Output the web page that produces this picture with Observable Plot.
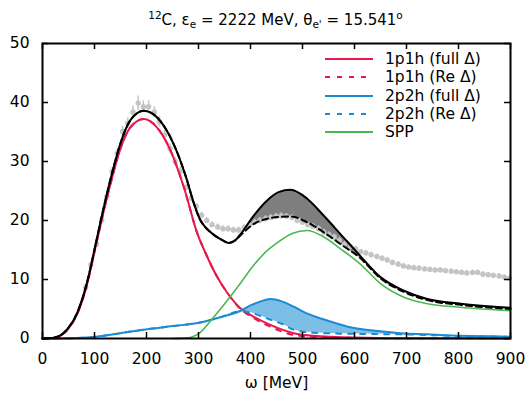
<!DOCTYPE html>
<html>
<head>
<meta charset="utf-8">
<script src="https://cdn.jsdelivr.net/npm/d3@7"></script>
<script src="https://cdn.jsdelivr.net/npm/@observablehq/plot@0.6"></script>
<style>
  html, body { margin: 0; padding: 0; background: #fff; }
  #wrap { position: relative; width: 531px; height: 395px; font-family: "DejaVu Sans", sans-serif; color: #000; }
  #title { height: 30px; box-sizing: border-box; padding-top: 11px; padding-left: 20px; line-height: 18px; font-size: 15px; text-align: center; white-space: nowrap; }
  #title sup, #title sub { font-size: 10.5px; line-height: 0; }
  #title sup { vertical-align: 6px; }
  #title sub { vertical-align: -3px; }
  #legend { position: absolute; left: 325px; top: 50px; font-size: 15.5px; }
  .row { display: flex; align-items: center; height: 18.3px; white-space: nowrap; }
  .row svg { margin-right: 12px; flex: none; }
</style>
</head>
<body>
<div id="wrap">
  <div id="title"><sup>12</sup>C, ε<sub>e</sub> = 2222 MeV, θ<sub>e'</sub> = 15.541<sup>o</sup></div>
  <div id="chart"></div>
  <div id="legend"></div>
</div>
<script>
// ---------- data ----------
const xTicks = [0, 100, 200, 300, 400, 500, 600, 700, 800, 900];
const yTicks = [0, 10, 20, 30, 40, 50];

// experimental data (gray points)
const expW = [83, 93, 104, 114, 124, 134, 144, 154, 164, 174, 184, 194, 204, 215, 225, 235, 245, 255, 265, 276, 286, 296, 306, 316, 326, 337, 347, 357, 367, 377, 388, 398, 408, 418, 429, 439, 449, 459, 469, 480, 490, 500, 510, 520, 531, 541, 551, 561, 571, 581, 592, 602, 612, 622, 632, 643, 653, 663, 673, 684, 694, 704, 714, 724, 735, 745, 755, 765, 775, 786, 796, 806, 816, 827, 837, 847, 857, 867, 878, 888, 898];
const expV = [8.7, 12.5, 16.0, 20.1, 24.1, 28.3, 31.4, 35.1, 36.5, 38.4, 39.9, 39.3, 39.3, 38.4, 36.7, 34.5, 32.2, 30.0, 28.4, 25.6, 23.8, 22.4, 20.9, 20.0, 19.3, 18.9, 18.6, 18.6, 18.4, 18.4, 18.8, 19.3, 19.7, 20.0, 20.3, 20.5, 20.7, 20.8, 20.7, 20.5, 20.0, 19.7, 19.3, 19.0, 18.6, 18.0, 17.6, 17.2, 16.6, 16.0, 15.6, 15.2, 14.7, 14.5, 14.2, 13.9, 13.6, 13.3, 12.9, 12.6, 12.3, 12.1, 12.0, 11.9, 11.8, 11.7, 11.6, 11.6, 11.5, 11.4, 11.3, 11.2, 11.1, 11.2, 11.2, 10.9, 10.8, 10.7, 10.6, 10.4, 10.2];
const expErr = [0.5, 0.5, 0.6, 0.6, 0.7, 0.7, 0.8, 0.9, 0.9, 1.0, 1.2, 1.0, 1.0, 0.9, 0.9, 0.8, 0.8, 0.7, 0.7, 0.6, 0.6, 0.5, 0.5, 0.5, 0.5, 0.5, 0.5, 0.5, 0.5, 0.5, 0.5, 0.5, 0.5, 0.5, 0.5, 0.5, 0.5, 0.5, 0.5, 0.5, 0.5, 0.5, 0.5, 0.5, 0.5, 0.5, 0.5, 0.5, 0.5, 0.5, 0.4, 0.4, 0.4, 0.4, 0.4, 0.4, 0.4, 0.4, 0.4, 0.4, 0.4, 0.4, 0.4, 0.4, 0.4, 0.4, 0.4, 0.4, 0.4, 0.4, 0.4, 0.4, 0.4, 0.4, 0.4, 0.4, 0.4, 0.4, 0.4, 0.4, 0.4];

// 1p1h
const redW    = [0, 20, 47, 67, 86, 102, 118, 134, 150, 169, 195, 220, 246, 272, 297, 315, 335, 355, 381, 400, 438, 483, 520, 600, 700, 900];
const redFull = [0, 0.05, 1.4, 4.2, 9.3, 15.5, 21.7, 27.3, 32.2, 35.8, 37.2, 35.8, 31.9, 25.6, 18.0, 14.2, 10.6, 7.8, 5.1, 4.0, 2.3, 0.9, 0.45, 0.15, 0.05, 0.02];
const redRe   = [0, 0.05, 1.4, 4.2, 9.3, 15.5, 21.7, 27.3, 32.2, 35.8, 37.2, 35.8, 31.9, 25.6, 18.0, 14.2, 10.6, 7.8, 5.0, 3.8, 2.0, 0.6, 0.3, 0.1, 0.04, 0.02];

// 2p2h
const blueW    = [0, 50, 92, 150, 195, 250, 303, 342, 381, 400, 420, 438, 460, 483, 505, 528, 560, 592, 640, 688, 740, 785, 850, 900];
const blueFull = [0, 0.05, 0.2, 0.9, 1.5, 2.1, 2.7, 3.6, 4.7, 5.6, 6.3, 6.7, 6.3, 5.4, 4.4, 3.6, 2.7, 1.9, 1.3, 0.9, 0.7, 0.5, 0.4, 0.3];
const blueRe   = [0, 0.05, 0.2, 0.9, 1.5, 2.1, 2.7, 3.6, 4.6, 4.4, 3.8, 3.2, 2.5, 1.5, 1.1, 0.95, 0.85, 0.8, 0.75, 0.7, 0.6, 0.45, 0.35, 0.25];

// SPP
const greenW = [250, 278, 303, 329, 355, 381, 406, 432, 451, 480, 509, 541, 573, 610, 650, 695, 740, 804, 900];
const greenV = [0, 0.1, 1.0, 3.6, 6.4, 9.4, 12.4, 14.9, 16.2, 17.8, 18.3, 17.2, 15.2, 12.7, 9.3, 7.0, 5.9, 5.3, 4.7];

// total
const blackW    = [0, 20, 47, 67, 86, 102, 118, 134, 150, 169, 195, 220, 252, 278, 290, 304, 316, 329, 345, 358, 370, 381, 406, 432, 454, 477, 509, 541, 573, 610, 650, 695, 740, 804, 900];
const blackFull = [0, 0.1, 1.5, 4.4, 9.6, 15.9, 22.3, 28.1, 33.1, 37.0, 38.6, 37.5, 33.0, 26.8, 23.2, 20.0, 18.6, 17.6, 16.7, 16.2, 16.6, 17.7, 20.8, 23.4, 24.8, 25.2, 23.7, 20.8, 17.7, 14.1, 10.4, 8.1, 6.7, 5.9, 5.2];
const blackRe   = [0, 0.1, 1.5, 4.4, 9.6, 15.9, 22.3, 28.1, 33.1, 37.0, 38.6, 37.5, 33.0, 26.8, 23.2, 20.0, 18.6, 17.6, 16.7, 16.2, 16.6, 17.5, 19.4, 20.3, 20.6, 20.7, 19.7, 18.0, 16.0, 13.7, 10.2, 7.9, 6.5, 5.7, 5.0];

const legendLabels = ["1p1h (full Δ)", "1p1h (Re Δ)", "2p2h (full Δ)", "2p2h (Re Δ)", "SPP"];

// ---------- styles ----------
const RED = "#e5194e", BLUE = "#1b8bd4", GREEN = "#4ab84f", BLACK = "#000";
const DASH = "5,7";
const legendStyles = [
  {stroke: RED, dash: null},
  {stroke: RED, dash: DASH},
  {stroke: BLUE, dash: null},
  {stroke: BLUE, dash: DASH},
  {stroke: GREEN, dash: null}
];

// ---------- tables ----------
const exp = expW.map((w, i) => ({w, v: expV[i], lo: expV[i] - expErr[i], hi: expV[i] + expErr[i]}));
const red = redW.map((w, i) => ({w, full: redFull[i], re: redRe[i]}));
const blue = blueW.map((w, i) => ({w, full: blueFull[i], re: blueRe[i]}));
const green = greenW.map((w, i) => ({w, v: greenV[i]}));
const black = blackW.map((w, i) => ({w, full: blackFull[i], re: blackRe[i]}));

const W = 531, H = 365, ML = 42, MR = 21, MT = 13, MB = 57;
const FW = W - ML - MR, FH = H - MT - MB, TK = 6;
const curve = "monotone-x";

const chart = Plot.plot({
  width: W, height: H,
  marginLeft: ML, marginRight: MR, marginTop: MT, marginBottom: MB,
  x: {domain: [0, 900]},
  y: {domain: [0, 50]},
  style: {fontFamily: "DejaVu Sans, sans-serif", fontSize: "15.5px", color: "#000", background: "#fff"},
  marks: [
    Plot.areaY(black, {x: "w", y1: "re", y2: "full", fill: "#7f7f7f", curve}),
    Plot.areaY(blue, {x: "w", y1: "re", y2: "full", fill: "#7dbee6", curve}),
    Plot.ruleX(exp, {x: "w", y1: "lo", y2: "hi", stroke: "#c4c4c4", strokeWidth: 1.5}),
    Plot.dot(exp, {x: "w", y: "v", r: 2.7, fill: "#c4c4c4"}),
    Plot.line(red, {x: "w", y: "full", stroke: RED, strokeWidth: 2, curve}),
    Plot.line(red, {x: "w", y: "re", stroke: RED, strokeWidth: 2, strokeDasharray: DASH, curve}),
    Plot.line(blue, {x: "w", y: "full", stroke: BLUE, strokeWidth: 2, curve}),
    Plot.line(blue, {x: "w", y: "re", stroke: BLUE, strokeWidth: 2, strokeDasharray: DASH, curve}),
    Plot.line(green, {x: "w", y: "v", stroke: GREEN, strokeWidth: 1.6, curve}),
    Plot.line(black, {x: "w", y: "re", stroke: BLACK, strokeWidth: 2, strokeDasharray: "6,4", curve}),
    Plot.line(black, {x: "w", y: "full", stroke: BLACK, strokeWidth: 2, curve}),
    // inward ticks on all four sides
    Plot.tickX(xTicks, {x: d => d, insetTop: FH - TK, stroke: BLACK, strokeWidth: 1.5}),
    Plot.tickX(xTicks, {x: d => d, insetBottom: FH - TK, stroke: BLACK, strokeWidth: 1.5}),
    Plot.tickY(yTicks, {y: d => d, insetRight: FW - TK, stroke: BLACK, strokeWidth: 1.5}),
    Plot.tickY(yTicks, {y: d => d, insetLeft: FW - TK, stroke: BLACK, strokeWidth: 1.5}),
    Plot.axisX({ticks: xTicks, tickSize: 0, tickPadding: 14, label: null, fontSize: 15.5}),
    Plot.axisY({ticks: yTicks, tickSize: 0, tickPadding: 13, label: null, fontSize: 15.5}),
    Plot.text(["ω [MeV]"], {frameAnchor: "bottom", text: d => d, dy: 49, fontSize: 15.5, fill: BLACK}),
    Plot.frame({stroke: BLACK, strokeWidth: 2})
  ]
});
document.getElementById("chart").appendChild(chart);

// legend
const leg = document.getElementById("legend");
legendLabels.forEach((label, i) => {
  const s = legendStyles[i];
  const row = document.createElement("div");
  row.className = "row";
  row.innerHTML = `<svg width="48" height="4"><line x1="0" y1="2" x2="48" y2="2" stroke="${s.stroke}" stroke-width="2.2"${s.dash ? ` stroke-dasharray="${s.dash}"` : ""}/></svg><span>${label}</span>`;
  leg.appendChild(row);
});
</script>
</body>
</html>
